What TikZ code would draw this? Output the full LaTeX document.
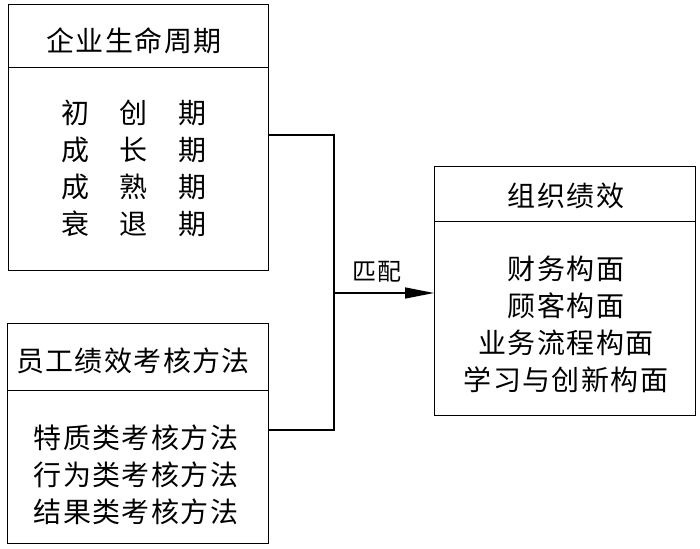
\documentclass[tikz,border=0pt]{standalone}
\usepackage{fontspec}
\setmainfont{Noto Sans CJK SC}[LetterSpace=5]
\usetikzlibrary{arrows.meta}
\begin{document}
\begin{tikzpicture}[x=1pt,y=-1pt,
  boxpart/.style={draw,line width=1.4pt,rectangle,inner sep=0pt,anchor=north west},
  txt/.style={align=center,inner sep=0pt,font=\fontsize{28pt}{37pt}\selectfont},
  conn/.style={line width=1.4pt}]
\useasboundingbox (0,0) rectangle (700,548);
% box 1
\node[boxpart,minimum width=260pt,minimum height=63pt] (h1) at (8,4) {};
\node[boxpart,minimum width=260pt,minimum height=203pt] (b1) at (8,67) {};
\node[txt] (t1) at (134,41) {企业生命周期};
\node[txt] (r1) at (134,168) {初\hspace{31pt}创\hspace{31pt}期\\成\hspace{31pt}长\hspace{31pt}期\\成\hspace{31pt}熟\hspace{31pt}期\\衰\hspace{31pt}退\hspace{31pt}期};
% box 2
\node[boxpart,minimum width=261pt,minimum height=67pt] (h2) at (7,323) {};
\node[boxpart,minimum width=261pt,minimum height=153pt] (b2) at (7,390) {};
\node[txt] (t2) at (133,361) {员工绩效考核方法};
\node[txt] (r2) at (136,475) {特质类考核方法\\行为类考核方法\\结果类考核方法};
% box 3
\node[boxpart,minimum width=261pt,minimum height=55pt] (h3) at (434,166) {};
\node[boxpart,minimum width=261pt,minimum height=194pt] (b3) at (434,221) {};
\node[txt] (t3) at (566,196) {组织绩效};
\node[txt] (r3) at (566,324) {财务构面\\顾客构面\\业务流程构面\\学习与创新构面};
% connectors
\coordinate (ja) at (334,135);
\coordinate (jb) at (334,430);
\coordinate (jm) at (334,293);
\draw[conn] (b1.east |- ja) -- (ja) -- (jb) -- (b2.east |- jb);
\draw[conn,-{Triangle[length=29pt,width=11pt]}] (jm) -- (b3.west |- jm);
\node[inner sep=0pt,font=\fontsize{24pt}{28pt}\selectfont] (lab) at (377,272) {匹配};
\end{tikzpicture}
\end{document}
